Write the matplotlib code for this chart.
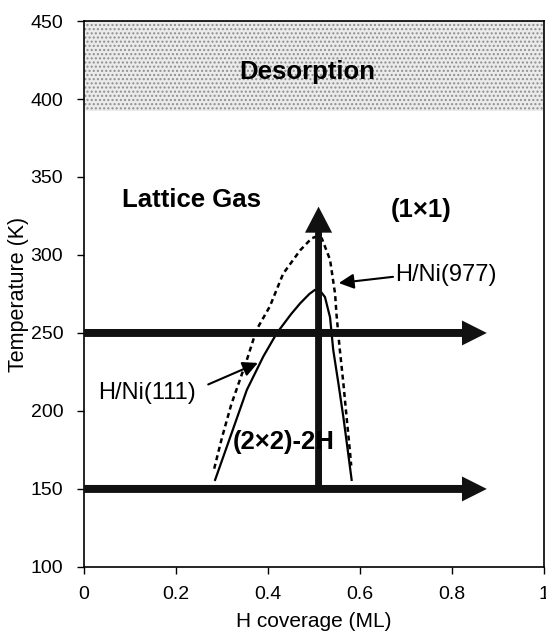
import matplotlib
matplotlib.use("Agg")
import matplotlib.pyplot as plt
from matplotlib.patches import FancyArrow

plt.rcParams['font.family'] = ['Liberation Sans', 'DejaVu Sans']

# --- data -------------------------------------------------------------
ni111_x = [0.285, 0.32, 0.354, 0.39, 0.419, 0.45, 0.470, 0.49, 0.502,
           0.515, 0.524, 0.535, 0.542, 0.553, 0.564, 0.573, 0.582]
ni111_T = [155.8, 185, 213.5, 235, 249.8, 262, 269, 275, 277.6,
           276.5, 273, 260, 239, 218, 196, 176, 155.8]

ni977_x = [0.283, 0.30, 0.32, 0.354, 0.375, 0.404, 0.433, 0.470, 0.495,
           0.507, 0.517, 0.535, 0.546, 0.549, 0.556, 0.564, 0.571, 0.578, 0.581]
ni977_T = [163, 183, 204, 232.7, 252, 267, 288, 303, 310.7,
           312, 310.7, 297, 275, 262, 240, 217.7, 196, 175, 165]

h_arrow_T = [250, 150]          # horizontal (heating at fixed T) arrows
h_arrow_x = [0.0, 0.876]        # start, tip
v_arrow_x = 0.51                # vertical arrow coverage
v_arrow_T = [150, 331]          # start, tip
desorption_T = [392, 450]

x_ticks = [0, 0.2, 0.4, 0.6, 0.8, 1]
x_ticklabels = ['0', '0.2', '0.4', '0.6', '0.8', '1']
y_ticks = [100, 150, 200, 250, 300, 350, 400, 450]

# --- figure -----------------------------------------------------------
fig = plt.figure(figsize=(5.46, 6.37), dpi=100)
ax = fig.add_axes([0.154, 0.110, 0.842, 0.857])
ax.set_xlim(0, 1)
ax.set_ylim(100, 450)

# desorption stipple band
ax.axhspan(desorption_T[0], desorption_T[1], facecolor='#ebebeb',
           edgecolor='#8f8f8f', hatch='....', linewidth=0, zorder=0)

# curves
ax.plot(ni111_x, ni111_T, color='black', lw=1.6, zorder=3)
ax.plot(ni977_x, ni977_T, color='black', lw=1.8, ls=(0, (2.0, 1.5)), zorder=3)

# thick arrows
for T in h_arrow_T:
    ax.add_patch(FancyArrow(h_arrow_x[0], T, h_arrow_x[1] - h_arrow_x[0], 0,
                            width=5.1, head_width=16, head_length=0.054,
                            length_includes_head=True, color='#111111',
                            lw=0, zorder=4))
ax.add_patch(FancyArrow(v_arrow_x, v_arrow_T[0], 0, v_arrow_T[1] - v_arrow_T[0],
                        width=0.015, head_width=0.059, head_length=16.7,
                        length_includes_head=True, color='#111111',
                        lw=0, zorder=4))

# labels
ax.text(0.485, 417, 'Desorption', fontsize=18.5, fontweight='bold',
        ha='center', va='center', zorder=5)
ax.text(0.234, 335, 'Lattice Gas', fontsize=18.5, fontweight='bold',
        ha='center', va='center', zorder=5)
ax.text(0.734, 329, '(1×1)', fontsize=18.5, fontweight='bold',
        ha='center', va='center', zorder=5)
ax.text(0.435, 180, '(2×2)-2H', fontsize=18.5, fontweight='bold',
        ha='center', va='center', zorder=5)

ax.text(0.03, 211.5, 'H/Ni(111)', fontsize=17, ha='left', va='center')
ax.text(0.676, 287, 'H/Ni(977)', fontsize=17, ha='left', va='center')
arrow_kw = dict(arrowstyle='-|>,head_length=0.6,head_width=0.3',
                color='black', lw=1.5, shrinkA=0, shrinkB=0, mutation_scale=15)
ax.annotate('', xy=(0.378, 230.8), xytext=(0.270, 217), arrowprops=arrow_kw)
ax.annotate('', xy=(0.554, 282), xytext=(0.672, 286), arrowprops=arrow_kw)

# axes styling
ax.set_xticks(x_ticks)
ax.set_xticklabels(x_ticklabels)
ax.set_yticks(y_ticks)
ax.tick_params(direction='out', length=5, width=1, labelsize=14)
ax.tick_params(axis='x', pad=9)
ax.tick_params(axis='y', pad=10)
ax.set_xlabel('H coverage (ML)', fontsize=15, labelpad=6)
ax.set_ylabel('Temperature (K)', fontsize=15.5, labelpad=1)
for s in ax.spines.values():
    s.set_linewidth(1.2)

fig.savefig('out.png', dpi=100)
